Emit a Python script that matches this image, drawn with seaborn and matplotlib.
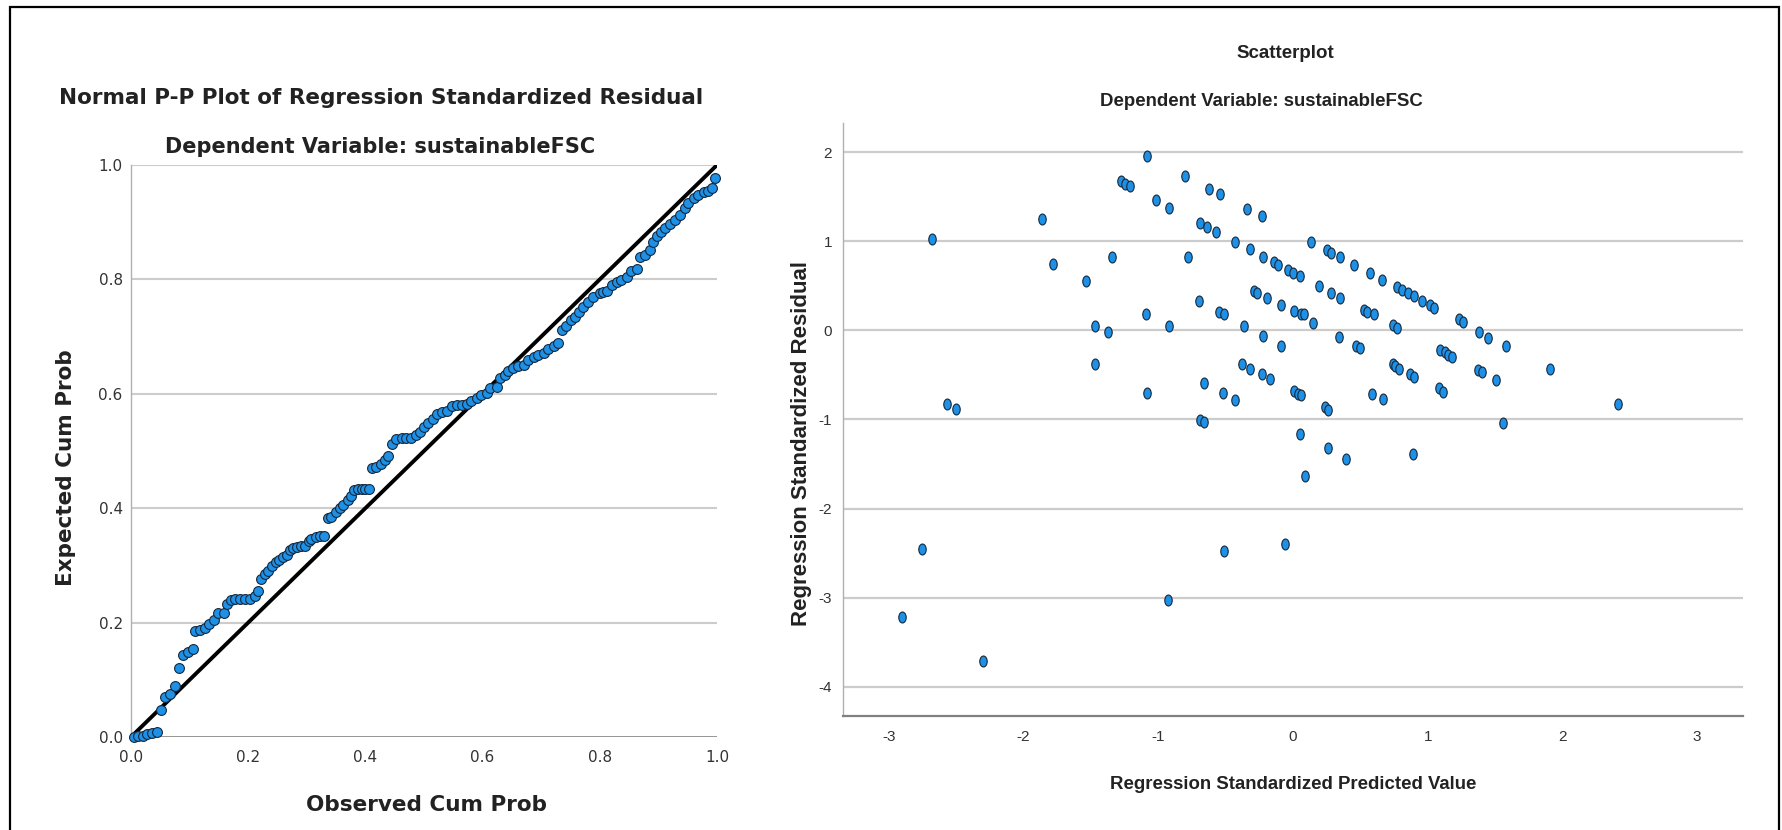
import numpy as np
import pandas as pd
import matplotlib
matplotlib.use("Agg")
import matplotlib.pyplot as plt
import seaborn as sns
from matplotlib.path import Path
from matplotlib.transforms import Affine2D
from matplotlib.patches import Rectangle
from matplotlib import font_manager

# ---- data: normal P-P plot (observed vs expected cumulative probability)
pp_observed = [0.005, 0.012, 0.020, 0.028, 0.036, 0.044,
               0.052, 0.058, 0.067, 0.075, 0.082, 0.088, 0.098, 0.106, 0.110, 0.118,
               0.126, 0.133, 0.142, 0.149, 0.158, 0.163, 0.171, 0.177, 0.186, 0.194,
               0.203, 0.212, 0.217,
               0.222, 0.228, 0.234, 0.240, 0.247, 0.253, 0.260, 0.266, 0.272, 0.277,
               0.283, 0.290, 0.297, 0.303, 0.308, 0.315, 0.323, 0.330,
               0.336, 0.342, 0.349, 0.357, 0.362, 0.370, 0.375, 0.381, 0.388, 0.395,
               0.400, 0.406,
               0.411, 0.418, 0.427, 0.433, 0.439, 0.445, 0.453, 0.462, 0.470, 0.478,
               0.486, 0.493,
               0.500, 0.507, 0.515, 0.522, 0.530, 0.539, 0.547, 0.556, 0.564, 0.573,
               0.581, 0.590, 0.598, 0.607, 0.613, 0.624, 0.630, 0.638, 0.644, 0.652,
               0.661, 0.670, 0.678, 0.687, 0.695, 0.704, 0.712, 0.721, 0.728,
               0.735, 0.743, 0.750, 0.758, 0.765, 0.772, 0.780, 0.789, 0.800, 0.806,
               0.812, 0.820, 0.829, 0.837, 0.846, 0.854, 0.863, 0.869, 0.877, 0.886,
               0.891, 0.898, 0.904, 0.911, 0.920, 0.928, 0.937, 0.945, 0.951, 0.960,
               0.968, 0.977, 0.985, 0.991, 0.997]
pp_expected = [0.000, 0.001, 0.002, 0.006, 0.007, 0.009,
               0.047, 0.070, 0.076, 0.089, 0.120, 0.144, 0.149, 0.153, 0.185, 0.187,
               0.190, 0.198, 0.204, 0.217, 0.217, 0.233, 0.239, 0.241, 0.241, 0.241,
               0.242, 0.247, 0.255,
               0.277, 0.285, 0.290, 0.299, 0.306, 0.310, 0.315, 0.318, 0.327, 0.330,
               0.333, 0.334, 0.334, 0.343, 0.347, 0.350, 0.351, 0.351,
               0.382, 0.385, 0.394, 0.401, 0.405, 0.414, 0.421, 0.431, 0.434, 0.434,
               0.434, 0.434,
               0.471, 0.472, 0.478, 0.485, 0.491, 0.513, 0.521, 0.522, 0.522, 0.522,
               0.528, 0.534,
               0.542, 0.549, 0.556, 0.565, 0.569, 0.570, 0.578, 0.580, 0.581, 0.583,
               0.587, 0.592, 0.598, 0.601, 0.610, 0.612, 0.627, 0.633, 0.640, 0.645,
               0.648, 0.650, 0.659, 0.665, 0.668, 0.671, 0.678, 0.684, 0.688,
               0.712, 0.718, 0.729, 0.735, 0.743, 0.752, 0.761, 0.770, 0.776, 0.778,
               0.780, 0.790, 0.796, 0.799, 0.805, 0.814, 0.818, 0.840, 0.843, 0.852,
               0.865, 0.875, 0.883, 0.890, 0.896, 0.904, 0.913, 0.925, 0.933, 0.942,
               0.948, 0.952, 0.955, 0.959, 0.978]

# ---- data: standardized predicted value vs standardized residual
pred_value = [-1.08, -1.28, -1.25, -1.21, -0.80, -0.62, -0.54, -1.02, -0.92, -0.34,
              -0.23, -1.86, -0.69, -0.64, -0.57, -0.43, 0.13, -0.32, 0.25, 0.28,
              0.35, 0.45, -0.22, -0.14, -0.11, -0.04, 0.00, 0.05, 0.57, 0.66,
              0.77, 0.81, 0.85, 0.90, 0.96, 1.02, 1.05, -1.34, -0.78, -1.78,
              -1.54, 0.19, 0.28, 0.35, -0.29, -0.27, -0.19, -0.09, -0.70, 0.53,
              0.55, 0.60, 0.01, 0.06, 0.08, -1.09, -0.55, -0.51, 1.23, 1.26,
              -1.47, -1.37, -0.92, -0.36, -0.22, -0.09, 0.15, 0.34, 0.47, 0.50,
              0.74, 0.77, 1.38, 1.45, 1.58, -1.47, -0.38, -0.32, -0.23, -0.17,
              1.09, 1.13, 1.15, 1.18, 0.74, 0.76, 0.79, 0.87, 0.90, 1.37,
              1.40, 1.51, -0.66, -1.08, -0.52, -0.43, 0.01, 0.04, 0.06, 0.24,
              0.26, 0.59, 0.67, 1.08, 1.11, -0.69, -0.66, 1.56, 0.05, 0.26,
              0.39, 0.89, 0.09,
              -2.68, -2.57, -2.50, 1.91, 2.41, -2.75, -2.90, -2.30, -0.93, -0.51,
              -0.06]
resid_value = [1.96, 1.68, 1.65, 1.62, 1.74, 1.59, 1.53, 1.47, 1.38, 1.36,
               1.28, 1.25, 1.21, 1.16, 1.11, 0.99, 0.99, 0.91, 0.90, 0.87,
               0.82, 0.74, 0.82, 0.77, 0.74, 0.68, 0.65, 0.61, 0.65, 0.57,
               0.49, 0.46, 0.42, 0.39, 0.33, 0.29, 0.25, 0.83, 0.83, 0.75,
               0.55, 0.50, 0.42, 0.37, 0.44, 0.42, 0.36, 0.29, 0.33, 0.23,
               0.21, 0.18, 0.22, 0.19, 0.18, 0.19, 0.21, 0.18, 0.13, 0.09,
               0.05, -0.02, 0.05, 0.05, -0.06, -0.17, 0.08, -0.07, -0.17, -0.20,
               0.06, 0.03, -0.02, -0.08, -0.17, -0.38, -0.38, -0.43, -0.49, -0.54,
               -0.22, -0.24, -0.27, -0.30, -0.38, -0.40, -0.43, -0.49, -0.52, -0.44,
               -0.47, -0.56, -0.59, -0.70, -0.70, -0.78, -0.68, -0.71, -0.73, -0.86,
               -0.89, -0.71, -0.77, -0.65, -0.69, -1.01, -1.03, -1.04, -1.16, -1.32,
               -1.44, -1.39, -1.64,
               1.03, -0.83, -0.88, -0.43, -0.83, -2.45, -3.22, -3.71, -3.03, -2.48,
               -2.40]

pp_ticks = [0.0, 0.2, 0.4, 0.6, 0.8, 1.0]
sc_xticks = [-3, -2, -1, 0, 1, 2, 3]
sc_yticks = [-4, -3, -2, -1, 0, 1, 2]

pp = pd.DataFrame({"observed": pp_observed, "expected": pp_expected})
sc = pd.DataFrame({"pred": pred_value, "resid": resid_value})

sns.set_theme(style="white")
available = {f.name for f in font_manager.fontManager.ttflist}
arial = "Liberation Sans" if "Liberation Sans" in available else "DejaVu Sans"
narrow = "Liberation Sans Narrow" if "Liberation Sans Narrow" in available else arial
plt.rcParams["font.family"] = ["DejaVu Sans"]

W, H = 1782, 830
fig = plt.figure(figsize=(W / 100, H / 100), dpi=100)
fig.patch.set_facecolor("white")


def fx(x):
    return x / W


def fy(y):
    return 1 - y / H


fill = "#1e90e6"
edge = "#14283c"
grid_c = "#cccccc"

# frame around the whole output
fig.patches.append(Rectangle((fx(10), fy(900)), fx(1779) - fx(10), fy(7) - fy(900),
                             transform=fig.transFigure, fill=False,
                             edgecolor="black", linewidth=1.6))

# ---------------- left: P-P plot
ax1 = fig.add_axes([fx(131), fy(737), fx(717) - fx(131), fy(165) - fy(737)])
ax1.set_xlim(0, 1)
ax1.set_ylim(0, 1)
for t in pp_ticks[1:]:
    ax1.axhline(t, color=grid_c, lw=1.5, zorder=0)
ax1.axhline(0, color="#8c8c8c", lw=2.0, zorder=1)
ax1.plot([0, 1], [0, 1], color="black", lw=2.8, zorder=2)
sns.scatterplot(data=pp, x="observed", y="expected", ax=ax1, s=50, color=fill,
                edgecolor=edge, linewidth=0.8, zorder=3, clip_on=False)
for s in ["top", "right", "bottom"]:
    ax1.spines[s].set_visible(False)
ax1.spines["left"].set_color("#b0b0b0")
ax1.spines["left"].set_linewidth(1.0)
ax1.set_xticks(pp_ticks)
ax1.set_yticks(pp_ticks)
ax1.set_xticklabels([f"{t:.1f}" for t in pp_ticks])
ax1.set_yticklabels([f"{t:.1f}" for t in pp_ticks])
ax1.tick_params(length=0, labelsize=11, colors="#333333")
ax1.tick_params(axis="x", pad=9)
ax1.tick_params(axis="y", pad=6)
ax1.set_xlabel("")
ax1.set_ylabel("")

fig.text(fx(381), fy(98), "Normal P-P Plot of Regression Standardized Residual",
         ha="center", va="center", fontsize=15.5, fontweight="bold", color="#222222")
fig.text(fx(380), fy(147), "Dependent Variable: sustainableFSC",
         ha="center", va="center", fontsize=15, fontweight="bold", color="#222222")
fig.text(fx(66), fy(468), "Expected Cum Prob", rotation=90,
         ha="center", va="center", fontsize=15.5, fontweight="bold", color="#222222")
fig.text(fx(426), fy(805), "Observed Cum Prob",
         ha="center", va="center", fontsize=15.5, fontweight="bold", color="#222222")

# ---------------- right: residual scatterplot
ax2 = fig.add_axes([fx(843), fy(716), fx(1743) - fx(843), fy(123) - fy(716)])
ax2.set_xlim(-3.34, 3.34)
ax2.set_ylim(-4.33, 2.33)
for t in sc_yticks:
    ax2.axhline(t, color=grid_c, lw=1.6, zorder=0)
ellipse = Path.unit_circle().transformed(Affine2D().scale(0.68, 1.0))
sns.scatterplot(data=sc, x="pred", y="resid", ax=ax2, s=62, marker=ellipse,
                color=fill, edgecolor=edge, linewidth=0.8, zorder=3)
for s in ["top", "right"]:
    ax2.spines[s].set_visible(False)
ax2.spines["left"].set_color("#b0b0b0")
ax2.spines["left"].set_linewidth(1.0)
ax2.spines["bottom"].set_color("#808080")
ax2.spines["bottom"].set_linewidth(1.6)
ax2.set_xticks(sc_xticks)
ax2.set_yticks(sc_yticks)
ax2.set_xticklabels([str(t) for t in sc_xticks], family=[narrow, "DejaVu Sans"])
ax2.set_yticklabels([str(t) for t in sc_yticks], family=[narrow, "DejaVu Sans"])
ax2.tick_params(length=0, labelsize=11, colors="#333333")
ax2.tick_params(axis="x", pad=10)
ax2.tick_params(axis="y", pad=8)
ax2.set_xlabel("")
ax2.set_ylabel("")

fig.text(fx(1285), fy(53), "Scatterplot", ha="center", va="center",
         fontsize=13.5, fontweight="bold", family=[narrow, "DejaVu Sans"], color="#222222")
fig.text(fx(1261), fy(102), "Dependent Variable: sustainableFSC", ha="center",
         va="center", fontsize=13.4, fontweight="bold", family=[arial, "DejaVu Sans"],
         color="#222222")
fig.text(fx(801), fy(444), "Regression Standardized Residual", rotation=90,
         ha="center", va="center", fontsize=16, fontweight="bold",
         family=[arial, "DejaVu Sans"], color="#222222")
fig.text(fx(1293), fy(784), "Regression Standardized Predicted Value", ha="center",
         va="center", fontsize=13.4, fontweight="bold", family=[arial, "DejaVu Sans"],
         color="#222222")

fig.savefig("out.png", dpi=100, facecolor="white")
